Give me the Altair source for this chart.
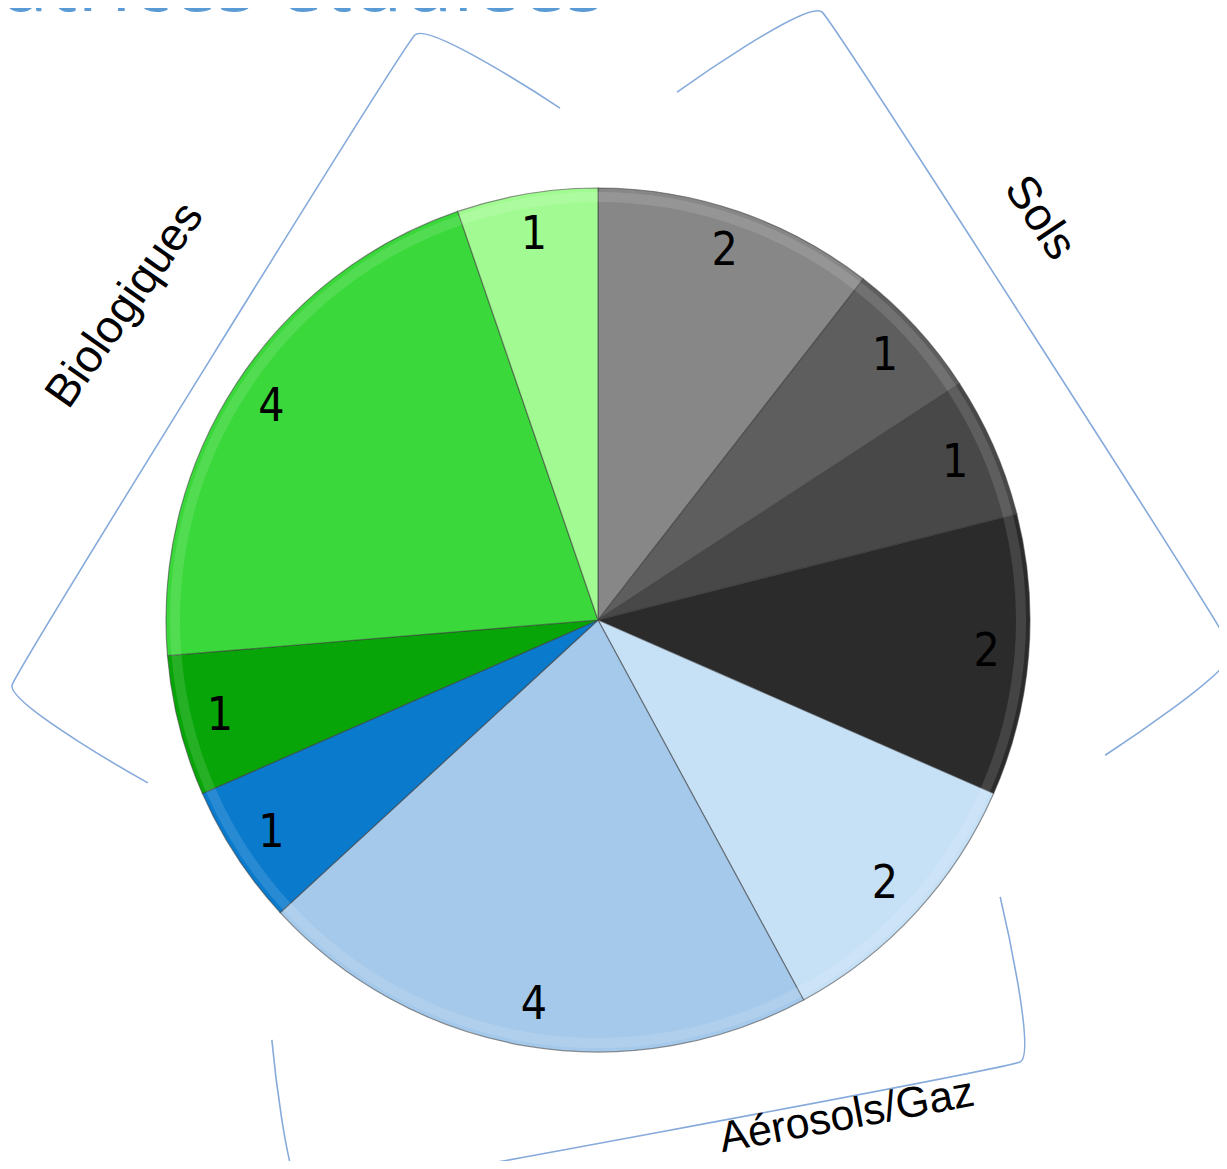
import altair as alt
import pandas as pd

# ---- pie data (clockwise from 12 o'clock) ----
slice_ids = ["s1", "s2", "s3", "s4", "a1", "a2", "a3", "b1", "b2", "b3"]
slice_groups = ["Sols", "Sols", "Sols", "Sols",
                "Aérosols/Gaz", "Aérosols/Gaz", "Aérosols/Gaz",
                "Biologiques", "Biologiques", "Biologiques"]
slice_values = [2, 1, 1, 2, 2, 4, 1, 1, 4, 1]
slice_colors = ["#878787", "#5e5e5e", "#484848", "#2b2b2b",
                "#c6e0f6", "#a5c9ea", "#0a7acd",
                "#08a508", "#3ad83a", "#a2fb92"]

# ---- bracket annotations (pie-radius = 100 units, origin = pie centre) ----
bio_bx = [-8.8, -42.4, -135.6, -104.2]
bio_by = [118.5, 135.4, -15.0, -37.7]
sols_bx = [18.3, 51.9, 146.8, 117.4]
sols_by = [122.2, 140.7, -6.9, -31.3]
aer_bx = [93.1, 97.7, -67.8, -75.5]
aer_by = [-64.1, -102.3, -133.1, -97.2]

title_text = "Matrices étudiées"

W, H = 1211, 1153
PX = 4.32           # pixels per unit (radius 432 px = 100 units)
CX, CY = 590, 612   # pie centre in chart pixels

xs = alt.Scale(domain=[-CX / PX, (W - CX) / PX], nice=False, zero=False)
ys = alt.Scale(domain=[-(H - CY) / PX, CY / PX], nice=False, zero=False)

pie_df = pd.DataFrame({"id": slice_ids, "group": slice_groups,
                       "value": slice_values,
                       "idx": list(range(len(slice_ids)))})

rows = []
for name, bx, by in [("Biologiques", bio_bx, bio_by),
                     ("Sols", sols_bx, sols_by),
                     ("Aérosols/Gaz", aer_bx, aer_by)]:
    for k, (a, b) in enumerate(zip(bx, by)):
        rows.append({"g": name, "k": k, "bx": a, "by": b})
br_df = pd.DataFrame(rows)

cx = alt.X(datum=0, scale=xs, axis=None)
cy = alt.Y(datum=0, scale=ys, axis=None)

arcs = alt.Chart(pie_df).mark_arc(
    outerRadius=432, stroke="#3c3c3c", strokeWidth=1.2, strokeOpacity=0.55
).encode(
    theta=alt.Theta("value:Q", stack=True),
    order=alt.Order("idx:Q"),
    color=alt.Color("id:N", scale=alt.Scale(domain=slice_ids, range=slice_colors), legend=None),
    x=cx, y=cy,
)

rim = alt.Chart(pie_df).mark_arc(
    outerRadius=428, innerRadius=418, color="white", opacity=0.12
).encode(
    theta=alt.Theta("value:Q", stack=True),
    order=alt.Order("idx:Q"),
    x=cx, y=cy,
)

labels = alt.Chart(pie_df).mark_text(
    radius=390, font="Liberation Sans Narrow, DejaVu Sans Condensed, sans-serif",
    fontSize=46, color="black", baseline="middle", align="center"
).encode(
    theta=alt.Theta("value:Q", stack=True),
    order=alt.Order("idx:Q"),
    text=alt.Text("value:Q"),
    x=cx, y=cy,
)

brackets = alt.Chart(br_df).mark_line(
    color="#86aadb", strokeWidth=1.6, interpolate="cardinal", tension=0.85
).encode(
    x=alt.X("bx:Q", scale=xs, axis=None),
    y=alt.Y("by:Q", scale=ys, axis=None),
    detail="g:N",
    order="k:Q",
)

def group_label(text, x, y, angle, size=46):
    return alt.Chart(pd.DataFrame({"t": [text]})).mark_text(
        font="Liberation Sans, Arial, sans-serif", fontSize=size, color="black",
        angle=angle, align="center", baseline="middle"
    ).encode(
        x=alt.X(datum=x, scale=xs, axis=None),
        y=alt.Y(datum=y, scale=ys, axis=None),
        text="t:N",
    )

lab_bio = group_label("Biologiques", -109.5, 72.9, 305)
lab_sols = group_label("Sols", 102.3, 93.1, 56)
lab_aer = group_label("Aérosols/Gaz", 57.6, -114.8, 349.5, 43)

title = alt.Chart(pd.DataFrame({"t": [title_text]})).mark_text(
    font="Open Sans, Lato, sans-serif", fontSize=82, color="#5b9bd5",
    align="right", baseline="alphabetic"
).encode(
    x=alt.X(datum=1.6, scale=xs, axis=None),
    y=alt.Y(datum=141.0, scale=ys, axis=None),
    text="t:N",
)

chart = alt.layer(
    arcs, rim, labels, brackets, lab_bio, lab_sols, lab_aer, title
).properties(
    width=W, height=H, padding=0,
    autosize=alt.AutoSizeParams(type="none"),
).configure_view(stroke=None)

chart.save("out.html", embed_options={"renderer": "svg", "actions": False})
